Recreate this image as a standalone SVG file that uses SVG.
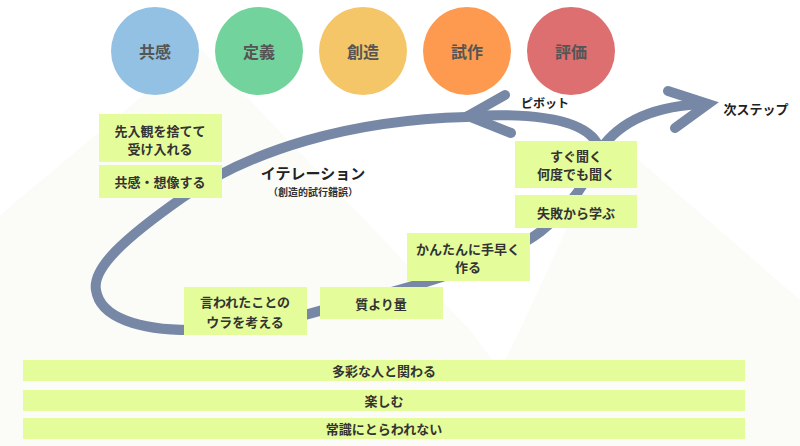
<svg xmlns="http://www.w3.org/2000/svg" width="800" height="446" viewBox="0 0 800 446">
<style>
.t{font-family:"Noto Sans CJK JP","Noto Sans",sans-serif;font-weight:bold;text-anchor:middle;dominant-baseline:central}
.ct{font-size:16px;fill:#555}
.bt{font-size:13px;fill:#333}
.box{fill:#e5fc9a}
.ln{fill:none;stroke:#7688a6;stroke-width:10;stroke-linecap:round}
.bg{fill:#fbfbf8}
</style>
<rect width="800" height="446" fill="#ffffff"/>
<g id="background">
<polygon class="bg" points="0,215 200,48 470,330 500,370 520,330 610,135 800,300 800,446 0,446"/>
</g>
<g id="phases">
<g id="phase-empathy"><circle cx="155" cy="51" r="44" fill="#93c1e4"/><text class="t ct" x="155" y="51">共感</text></g>
<g id="phase-define"><circle cx="259" cy="51" r="44" fill="#72d49c"/><text class="t ct" x="259" y="51">定義</text></g>
<g id="phase-ideate"><circle cx="363" cy="51" r="44" fill="#f5c667"/><text class="t ct" x="363" y="51">創造</text></g>
<g id="phase-prototype"><circle cx="467" cy="51" r="44" fill="#fd9a50"/><text class="t ct" x="467" y="51">試作</text></g>
<g id="phase-test"><circle cx="571" cy="51" r="44" fill="#dd6f70"/><text class="t ct" x="571" y="51">評価</text></g>
</g>
<g id="connectors">
<path class="ln" d="M467,117 C350,120 250,150 182,198 C125,238 92,268 96,290 C100,318 140,330 190,330 C255,330 295,318 330,308 C420,286 500,262 540,232 C570,208 590,178 600,150"/>
<path class="ln" d="M600,150 C592,122 545,112 468,116"/>
<path class="ln" d="M600,150 C622,118 662,105 707,104"/>
<path class="ln" stroke-linejoin="miter" d="M505,95 L468,116 L511,133"/>
<path class="ln" stroke-linejoin="miter" d="M668,91 L708,104 L675,128"/>
</g>
<g id="labels">
<text class="t" x="313" y="172" font-size="15" fill="#222">イテレーション</text>
<text class="t" x="313" y="191" font-size="10" fill="#333">（創造的試行錯誤）</text>
<text class="t" x="545" y="102" font-size="12" fill="#222">ピボット</text>
<text class="t" x="756" y="108" font-size="13" fill="#222">次ステップ</text>
</g>
<g id="node-accept"><rect class="box" x="99" y="114" width="123" height="48"/><text class="t bt" x="160" y="130">先入観を捨てて</text><text class="t bt" x="160" y="148">受け入れる</text></g>
<g id="node-imagine"><rect class="box" x="99" y="165" width="123" height="33"/><text class="t bt" x="160" y="181">共感・想像する</text></g>
<g id="node-reverse"><rect class="box" x="184" y="287" width="123" height="48"/><text class="t bt" x="245" y="301">言われたことの</text><text class="t bt" x="245" y="321">ウラを考える</text></g>
<g id="node-quantity"><rect class="box" x="320" y="287" width="123" height="32"/><text class="t bt" x="381" y="303">質より量</text></g>
<g id="node-quick"><rect class="box" x="407" y="233" width="123" height="48"/><text class="t bt" x="468" y="248">かんたんに手早く</text><text class="t bt" x="468" y="266">作る</text></g>
<g id="node-ask"><rect class="box" x="515" y="141" width="122" height="47"/><text class="t bt" x="576" y="155">すぐ聞く</text><text class="t bt" x="576" y="173">何度でも聞く</text></g>
<g id="node-fail"><rect class="box" x="515" y="195" width="122" height="33"/><text class="t bt" x="576" y="212">失敗から学ぶ</text></g>
<g id="bar-diverse"><rect class="box" x="23" y="360" width="722" height="21"/><text class="t bt" x="384" y="370.5">多彩な人と関わる</text></g>
<g id="bar-enjoy"><rect class="box" x="23" y="390" width="722" height="21"/><text class="t bt" x="384" y="400.5">楽しむ</text></g>
<g id="bar-unconventional"><rect class="box" x="23" y="418" width="722" height="21"/><text class="t bt" x="384" y="428.5">常識にとらわれない</text></g>
</svg>
